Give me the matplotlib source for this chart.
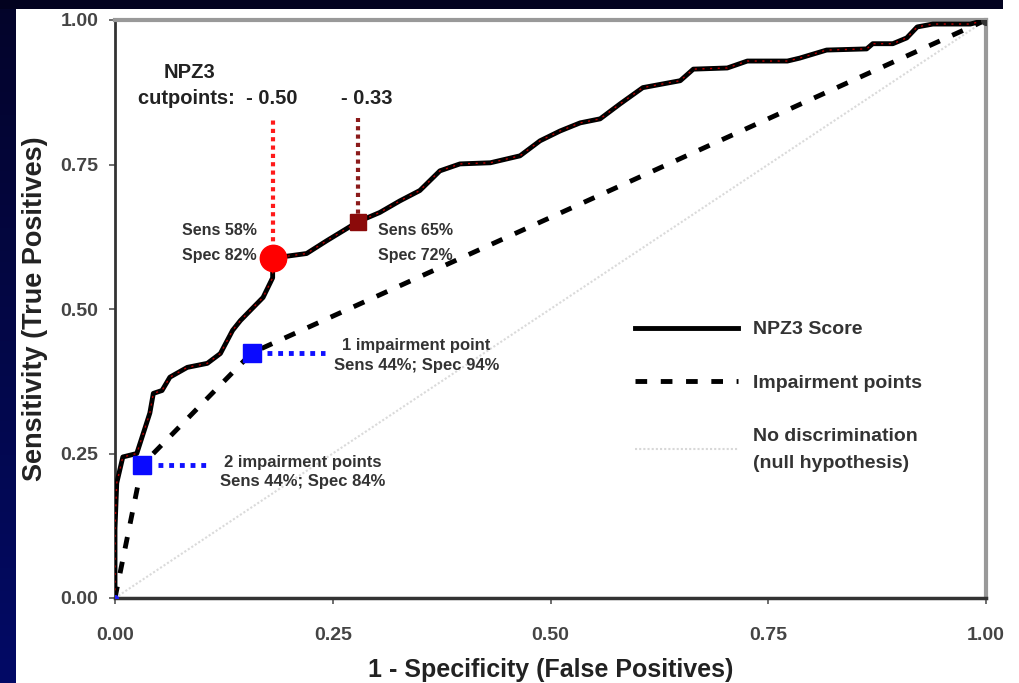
import matplotlib
matplotlib.use("Agg")
import matplotlib.pyplot as plt
from matplotlib.lines import Line2D
from matplotlib.colors import LinearSegmentedColormap
import numpy as np
from matplotlib import font_manager

# ---------------- data ----------------
roc_fpr = [0, 0.000, 0.002, 0.009, 0.025, 0.040, 0.044, 0.054, 0.063, 0.083, 0.106,
           0.121, 0.135, 0.144, 0.155, 0.170, 0.181, 0.181, 0.220, 0.243, 0.279,
           0.304, 0.327, 0.350, 0.373, 0.396, 0.431, 0.465, 0.488, 0.511, 0.534,
           0.557, 0.580, 0.606, 0.649, 0.664, 0.703, 0.726, 0.772, 0.786, 0.817,
           0.863, 0.870, 0.893, 0.909, 0.921, 0.939, 0.982, 1.000]
roc_tpr = [0, 0.120, 0.199, 0.244, 0.250, 0.320, 0.354, 0.359, 0.382, 0.399, 0.406,
           0.423, 0.463, 0.480, 0.497, 0.520, 0.554, 0.588, 0.596, 0.618, 0.651,
           0.667, 0.687, 0.705, 0.739, 0.751, 0.753, 0.765, 0.791, 0.808, 0.822,
           0.829, 0.855, 0.883, 0.895, 0.915, 0.917, 0.929, 0.929, 0.934, 0.948,
           0.950, 0.959, 0.959, 0.969, 0.988, 0.993, 0.993, 1.000]

imp_fpr = [0, 0.031, 0.157, 1.0]
imp_tpr = [0, 0.230, 0.424, 1.0]

null_fpr = [0, 1]
null_tpr = [0, 1]

cut1 = (0.181, 0.588)   # cutpoint -0.50
cut2 = (0.279, 0.651)   # cutpoint -0.33
imp2 = (0.031, 0.230)   # 2 impairment points
imp1 = (0.157, 0.424)   # 1 impairment point

ticks = [0, 0.25, 0.5, 0.75, 1.0]
tick_labels = ["0.00", "0.25", "0.50", "0.75", "1.00"]

# ---------------- fonts ----------------
avail = {f.name for f in font_manager.fontManager.ttflist}
fam = [f for f in ["Liberation Sans", "DejaVu Sans"] if f in avail]
plt.rcParams['font.family'] = fam

W, H = 1019, 683
fig = plt.figure(figsize=(W / 100, H / 100), dpi=100)
fig.patch.set_facecolor("white")

# background strips (navy)
bg_left = fig.add_axes([0, 0, 16 / W, 1])
grad = np.linspace(0, 1, 256).reshape(-1, 1)
cm = LinearSegmentedColormap.from_list("nv", ["#04042a", "#020a66"])
bg_left.imshow(grad, aspect="auto", cmap=cm, extent=[0, 1, 0, 1], origin="upper")
bg_left.axis("off")
bg_top = fig.add_axes([0, 1 - 9 / H, 1003 / W, 9 / H])
bg_top.set_facecolor("#02021f")
bg_top.set_xticks([]); bg_top.set_yticks([])
for s in bg_top.spines.values():
    s.set_visible(False)

ax = fig.add_axes([115 / W, 1 - 598 / H, (986 - 115) / W, (598 - 20) / H])
ax.set_xlim(0, 1)
ax.set_ylim(0, 1)

# null line
ax.plot(null_fpr, null_tpr, color="#dadada", lw=1.5, ls=(0, (1, 1)), zorder=1)
# impairment
ax.plot(imp_fpr, imp_tpr, color="black", lw=3.5, ls=(0, (2.4, 2.8)), zorder=2)
# ROC curve
ax.plot(roc_fpr, roc_tpr, color="black", lw=3.5, zorder=3, solid_joinstyle="round")
ax.plot(roc_fpr, roc_tpr, color="#c00000", lw=1.0, ls=(0, (1.5, 4)), zorder=4)
ax.plot([roc_fpr[-1]], [roc_tpr[-1]], "o", color="#333333", ms=7, zorder=5)
ax.plot([roc_fpr[0]], [roc_tpr[0]], "o", color="#2020ff", ms=4, zorder=5)

# cutpoint verticals
ax.plot([cut1[0], cut1[0]], [cut1[1], 0.830], color="#ff1a1a", lw=3, ls=(0, (1, 1)), zorder=4)
ax.plot([cut2[0], cut2[0]], [cut2[1], 0.830], color="#8b1a1a", lw=3, ls=(0, (1, 1)), zorder=4)
ax.plot([cut1[0]], [cut1[1]], "o", color="#ff0000", ms=19, zorder=6)
ax.plot([cut2[0]], [cut2[1]], "s", color="#8b0a0a", ms=12, zorder=6)

# impairment horizontals
ax.plot([imp1[0] + 0.018, 0.241], [imp1[1], imp1[1]], color="#1010ff", lw=3.5, ls=(0, (1, 1.2)), zorder=4)
ax.plot([imp2[0] + 0.018, 0.106], [imp2[1], imp2[1]], color="#1010ff", lw=3.5, ls=(0, (1, 1.2)), zorder=4)
ax.plot([imp1[0]], [imp1[1]], "s", color="#0a0aff", ms=13, zorder=6)
ax.plot([imp2[0]], [imp2[1]], "s", color="#0a0aff", ms=13, zorder=6)

# annotations
tc = "#222222"
ax.text(0.086, 0.910, "NPZ3", ha="center", va="center", fontsize=14.5, fontweight="bold", color=tc)
ax.text(0.209, 0.865, "cutpoints:  - 0.50", ha="right", va="center", fontsize=14.5, fontweight="bold", color=tc)
ax.text(0.289, 0.865, "- 0.33", ha="center", va="center", fontsize=14.5, fontweight="bold", color=tc)
ax.text(0.163, 0.614, "Sens 58%\nSpec 82%", ha="right", va="center", fontsize=11.5, fontweight="bold",
        color="#333333", linespacing=1.8)
ax.text(0.302, 0.614, "Sens 65%\nSpec 72%", ha="left", va="center", fontsize=11.5, fontweight="bold",
        color="#333333", linespacing=1.8)
ax.text(0.346, 0.419, "1 impairment point\nSens 44%; Spec 94%", ha="center", va="center", fontsize=12,
        fontweight="bold", color="#333333", linespacing=1.4)
ax.text(0.216, 0.218, "2 impairment points\nSens 44%; Spec 84%", ha="center", va="center", fontsize=12,
        fontweight="bold", color="#333333", linespacing=1.4)

# legend
handles = [Line2D([], [], color="black", lw=3.5),
           Line2D([], [], color="black", lw=3.5, ls=(0, (2.4, 2.8))),
           Line2D([], [], color="#d8d8d8", lw=1.5, ls=(0, (1, 1)))]
labels = ["NPZ3 Score", "Impairment points", "No discrimination\n(null hypothesis)"]
leg = ax.legend(handles, labels, loc="upper left", bbox_to_anchor=(0.577, 0.51), frameon=False,
                handlelength=5.3, handletextpad=0.75, labelspacing=1.85,
                prop={"weight": "bold", "size": 14})
for t in leg.get_texts():
    t.set_color("#333333")
leg.get_texts()[2].set_linespacing(1.75)

# axes styling
ax.set_xticks(ticks)
ax.set_xticklabels(tick_labels)
ax.set_yticks(ticks)
ax.set_yticklabels(tick_labels)
ax.tick_params(axis="both", labelsize=14, colors="#555555", length=4, width=1.2)
ax.tick_params(axis="x", pad=17)
ax.tick_params(axis="y", pad=8)
for lab in ax.get_xticklabels() + ax.get_yticklabels():
    lab.set_fontweight("bold")
    lab.set_color("#444444")
ax.spines["left"].set_color("#333333")
ax.spines["left"].set_linewidth(2)
ax.spines["bottom"].set_color("#333333")
ax.spines["bottom"].set_linewidth(2.5)
ax.spines["top"].set_color("#999999")
ax.spines["top"].set_linewidth(3)
ax.spines["right"].set_color("#999999")
ax.spines["right"].set_linewidth(3)

ax.set_xlabel("1 - Specificity (False Positives)", fontsize=18, fontweight="bold", color="#222222", labelpad=10)
ax.set_ylabel("Sensitivity (True Positives)", fontsize=19.5, fontweight="bold", color="#222222", labelpad=9)

fig.savefig("out.png", dpi=100, facecolor=fig.get_facecolor())
